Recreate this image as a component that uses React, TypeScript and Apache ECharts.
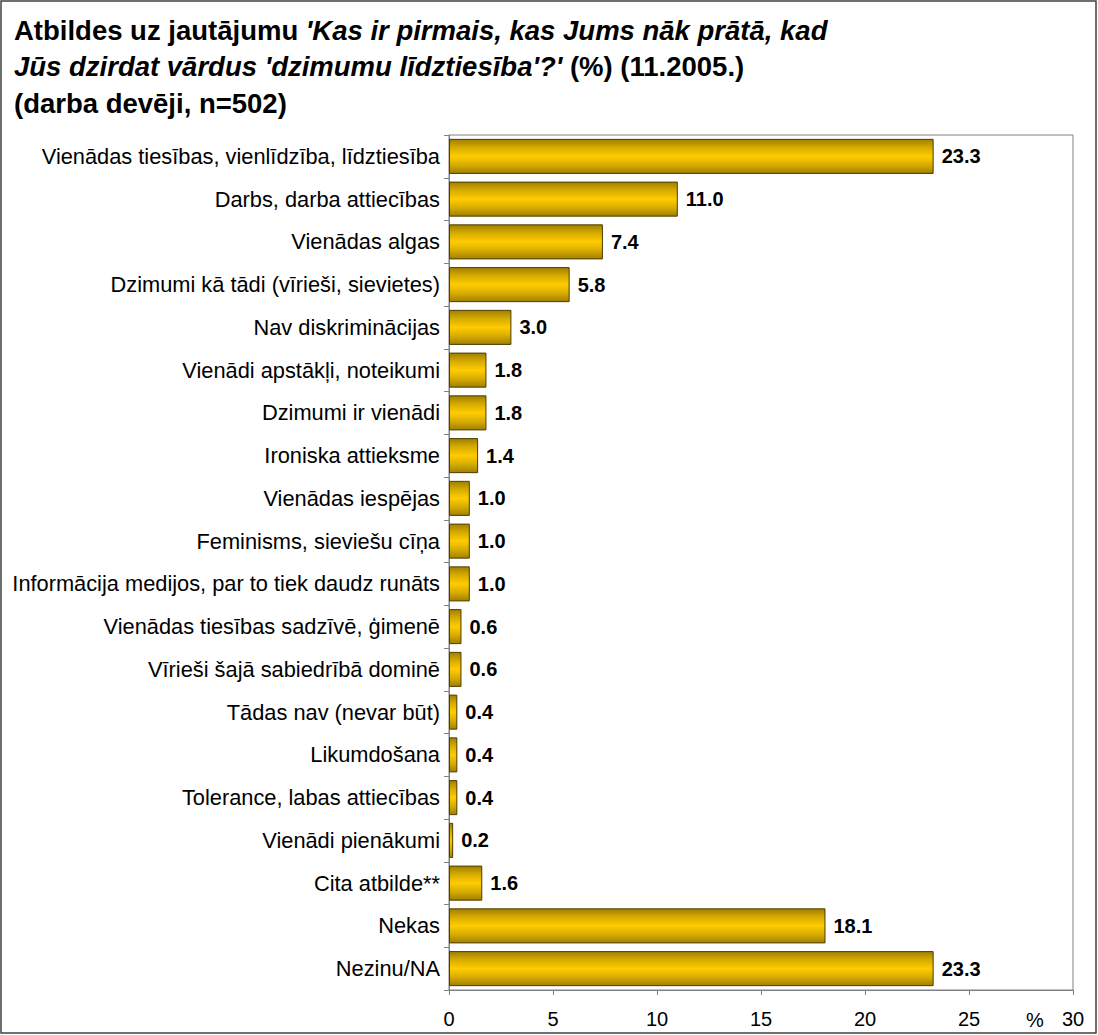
import React, { useEffect, useRef } from "react";
import * as echarts from "echarts";

const categories = [
  "Vienādas tiesības, vienlīdzība, līdztiesība",
  "Darbs, darba attiecības",
  "Vienādas algas",
  "Dzimumi kā tādi (vīrieši, sievietes)",
  "Nav diskriminācijas",
  "Vienādi apstākļi, noteikumi",
  "Dzimumi ir vienādi",
  "Ironiska attieksme",
  "Vienādas iespējas",
  "Feminisms, sieviešu cīņa",
  "Informācija medijos, par to tiek daudz runāts",
  "Vienādas tiesības sadzīvē, ģimenē",
  "Vīrieši šajā sabiedrībā dominē",
  "Tādas nav (nevar būt)",
  "Likumdošana",
  "Tolerance, labas attiecības",
  "Vienādi pienākumi",
  "Cita atbilde**",
  "Nekas",
  "Nezinu/NA",
];

const values = [23.3, 11.0, 7.4, 5.8, 3.0, 1.8, 1.8, 1.4, 1.0, 1.0, 1.0, 0.6, 0.6, 0.4, 0.4, 0.4, 0.2, 1.6, 18.1, 23.3];

const FONT = "'Liberation Sans', Arial, sans-serif";

export default function App() {
  const ref = useRef<HTMLDivElement>(null);
  useEffect(() => {
    if (!ref.current) return;
    const chart = echarts.init(ref.current, null, { renderer: "svg" });
    chart.setOption({
      animation: false,
      backgroundColor: "#ffffff",
      title: {
        left: 9,
        top: 7,
        text:
          "{n|Atbildes uz jautājumu }{i|'Kas ir pirmais, kas Jums nāk prātā, kad}\n" +
          "{i|Jūs dzirdat vārdus 'dzimumu līdztiesība'?'}{n| (%) (11.2005.)}\n" +
          "{n|(darba devēji, n=502)}",
        textStyle: {
          rich: {
            n: { fontFamily: FONT, fontSize: 27.5, fontWeight: "bold", color: "#000", lineHeight: 36.5 },
            i: { fontFamily: FONT, fontSize: 27.5, fontWeight: "bold", fontStyle: "italic", color: "#000", lineHeight: 36.5 },
          },
        },
      },
      grid: {
        left: 449,
        right: 25,
        top: 135,
        bottom: 45,
        show: true,
        borderColor: "#808080",
        borderWidth: 1,
      },
      xAxis: {
        type: "value",
        min: 0,
        max: 30,
        interval: 5,
        splitLine: { show: false },
        axisLine: { show: true, lineStyle: { color: "#808080" } },
        axisTick: { show: true, length: 5, lineStyle: { color: "#808080" } },
        axisLabel: { fontFamily: FONT, fontSize: 20, color: "#000", margin: 19 },
      },
      yAxis: {
        type: "category",
        data: categories,
        inverse: true,
        axisLine: { show: true, lineStyle: { color: "#808080" } },
        axisTick: { show: true, length: 5, lineStyle: { color: "#808080" } },
        axisLabel: { fontFamily: FONT, fontSize: 21.8, color: "#000", margin: 9 },
      },
      graphic: [
        {
          type: "rect",
          shape: { x: 1, y: 1, width: 1095, height: 1032 },
          style: { fill: "none", stroke: "#404040", lineWidth: 1.5 },
          silent: true,
        },
        {
          type: "text",
          x: 1035,
          y: 1020,
          style: {
            text: "%",
            fontFamily: FONT,
            fontSize: 20,
            fill: "#000",
            textAlign: "center",
            textVerticalAlign: "middle",
          },
        },
      ],
      series: [
        {
          type: "bar",
          data: values,
          barCategoryGap: "18%",
          itemStyle: {
            borderColor: "#4d3d00",
            borderWidth: 1,
            color: new echarts.graphic.LinearGradient(0, 0, 0, 1, [
              { offset: 0, color: "#a08000" },
              { offset: 0.25, color: "#d8ac00" },
              { offset: 0.5, color: "#ffcc00" },
              { offset: 0.75, color: "#d8ac00" },
              { offset: 1, color: "#a08000" },
            ]),
          },
          label: {
            show: true,
            position: "right",
            distance: 8,
            fontFamily: FONT,
            fontSize: 20,
            fontWeight: "bold",
            color: "#000",
            formatter: (p: any) => Number(p.value).toFixed(1),
          },
        },
      ],
    });
    return () => chart.dispose();
  }, []);
  return (
    <div
      ref={ref}
      style={{ position: "fixed", left: 0, top: 0, width: 1098, height: 1035 }}
    />
  );
}
